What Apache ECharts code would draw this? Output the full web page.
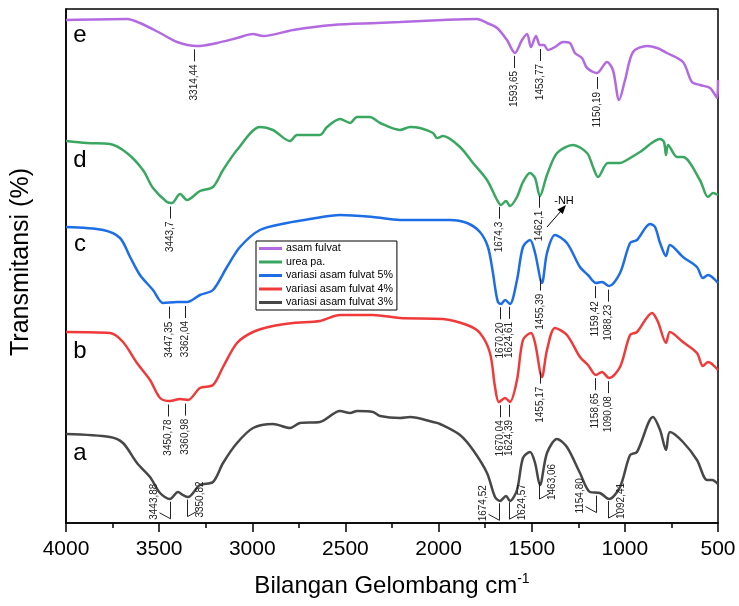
<!DOCTYPE html>
<html>
<head>
<meta charset="utf-8">
<script src="https://cdn.jsdelivr.net/npm/echarts@6/dist/echarts.min.js"></script>
<style>
  html, body { margin: 0; padding: 0; background: #fff; }
  #chart { width: 739px; height: 606px; }
</style>
</head>
<body>
<div id="chart"></div>
<script>
  // spektrum FTIR, nilai transmitansi relatif (offset per kurva)
  const wnE = [4000, 3673, 3603, 3495, 3404, 3297, 3189, 3082, 2996, 2942, 2781, 2567, 2330, 2207, 1976, 1794, 1740, 1686, 1633, 1590, 1552, 1525, 1504, 1477, 1456, 1434, 1413, 1375, 1332, 1295, 1268, 1230, 1203, 1150, 1096, 1064, 1031, 999, 956, 881, 827, 774, 688, 640, 597, 543, 505, 500]
  const tE = [503, 504, 500, 490, 481, 477, 480, 485, 489, 487, 493, 498, 500, 501, 503, 504, 500, 495, 483, 470, 483, 489, 476, 487, 478, 478, 473, 476, 481, 480, 470, 465, 455, 450, 461, 453, 423, 443, 471, 477, 475, 470, 461, 441, 438, 435, 425, 443]

  const wnD = [4000, 3887, 3764, 3673, 3587, 3533, 3458, 3431, 3388, 3350, 3281, 3211, 3157, 3082, 2959, 2889, 2798, 2760, 2637, 2599, 2529, 2475, 2438, 2368, 2314, 2207, 2153, 2100, 2030, 2008, 1976, 1885, 1815, 1740, 1686, 1665, 1638, 1617, 1579, 1547, 1509, 1482, 1456, 1418, 1364, 1278, 1203, 1171, 1144, 1091, 1026, 999, 919, 811, 790, 779, 768, 720, 688, 597, 554, 527, 500]
  const tD = [382, 380, 379, 370, 353, 335, 321, 320, 329, 323, 332, 336, 353, 373, 396, 393, 382, 388, 388, 396, 404, 400, 406, 406, 400, 393, 396, 395, 390, 385, 387, 376, 360, 343, 323, 318, 322, 317, 326, 341, 350, 345, 327, 348, 370, 378, 370, 356, 346, 360, 360, 362, 371, 384, 381, 368, 378, 366, 366, 343, 326, 330, 328]

  const wnC = [4000, 3801, 3710, 3656, 3603, 3533, 3479, 3404, 3350, 3281, 3211, 3136, 3066, 2959, 2814, 2690, 2529, 2352, 2207, 1939, 1847, 1778, 1735, 1708, 1697, 1681, 1665, 1643, 1617, 1579, 1547, 1509, 1482, 1445, 1418, 1375, 1311, 1241, 1198, 1155, 1123, 1085, 1026, 972, 935, 865, 838, 811, 779, 758, 688, 613, 581, 554, 500]
  const tC = [296, 293, 285, 266, 248, 233, 220, 221, 221, 228, 233, 256, 276, 293, 300, 304, 308, 306, 303, 303, 300, 291, 276, 250, 236, 221, 219, 223, 219, 243, 276, 283, 270, 240, 270, 288, 280, 256, 248, 240, 241, 237, 250, 280, 283, 299, 296, 280, 267, 278, 266, 256, 245, 248, 240]

  const wnB = [4000, 3764, 3694, 3619, 3549, 3495, 3442, 3388, 3345, 3281, 3211, 3157, 3082, 2996, 2889, 2781, 2637, 2529, 2352, 2207, 1976, 1847, 1778, 1724, 1697, 1676, 1643, 1617, 1579, 1547, 1504, 1482, 1445, 1418, 1375, 1311, 1241, 1198, 1155, 1123, 1085, 1026, 972, 935, 854, 822, 779, 758, 688, 613, 581, 554, 500]
  const tB = [191, 190, 181, 160, 143, 125, 122, 124, 123, 135, 138, 156, 180, 191, 197, 200, 202, 208, 208, 205, 204, 198, 190, 170, 136, 121, 125, 121, 143, 183, 190, 180, 146, 173, 195, 188, 166, 158, 148, 151, 145, 156, 188, 191, 210, 201, 180, 191, 181, 170, 157, 161, 153]

  const wnA = [4000, 3764, 3694, 3619, 3549, 3495, 3442, 3399, 3372, 3345, 3281, 3211, 3157, 3082, 2996, 2889, 2798, 2744, 2637, 2529, 2475, 2438, 2352, 2314, 2207, 2153, 2030, 1992, 1885, 1815, 1740, 1697, 1670, 1638, 1617, 1579, 1547, 1509, 1482, 1456, 1418, 1364, 1311, 1241, 1187, 1134, 1085, 1026, 972, 935, 849, 811, 779, 758, 688, 613, 559, 532, 500]
  const tA = [89, 86, 80, 60, 46, 30, 24, 31, 28, 26, 38, 41, 60, 80, 95, 99, 95, 100, 101, 112, 110, 112, 111, 107, 105, 106, 101, 99, 88, 73, 50, 26, 22, 27, 22, 33, 65, 71, 60, 38, 70, 84, 76, 50, 31, 30, 24, 36, 68, 71, 106, 93, 73, 91, 81, 63, 43, 43, 39]

  const namaSeri = ['asam fulvat', 'urea pa.', 'variasi asam fulvat 5%', 'variasi asam fulvat 4%', 'variasi asam fulvat 3%']
  const warna = ['#b36ae0', '#3aa760', '#1c6de6', '#f03a3a', '#474747']
  const hurufKurva = ['e', 'd', 'c', 'b', 'a']
  const xTicks = [4000, 3500, 3000, 2500, 2000, 1500, 1000, 500]

  // label puncak
  const puncakE = ['3314,44', '1593,65', '1453,77', '1150,19']
  const puncakD = ['3443,7', '1674,3', '1462,1']
  const puncakC = ['3447,35', '3362,04', '1670,20', '1624,61', '1455,39', '1159,42', '1088,23']
  const puncakB = ['3450,78', '3360,98', '1670,04', '1624,39', '1455,17', '1158,65', '1090,08']
  const puncakA = ['3443,88', '3350,82', '1674,52', '1624,57', '1463,06', '1154,80', '1092,41']
  const sisiA = [-1, 1, -1, 1, 1, -1, 1]

  const FONT = '"Liberation Sans", Arial, sans-serif'
  const chart = echarts.init(document.getElementById('chart'))

  function pairs(xs, ys) {
    return xs.map((x, i) => [x, ys[i]])
  }
  // posisi kurva di bilangan gelombang tertentu (untuk menaruh label)
  function interp(xs, ys, w) {
    for (let i = 0; i < xs.length - 1; i++) {
      if (w <= xs[i] && w >= xs[i + 1]) {
        const t = (xs[i] - w) / (xs[i] - xs[i + 1])
        return ys[i] + t * (ys[i + 1] - ys[i])
      }
    }
    return ys[ys.length - 1]
  }

  const anotasi = []
  function tambahAnotasi(xs, ys, labels, sisi) {
    labels.forEach((s, i) => {
      const w = parseFloat(s.replace(',', '.'))
      anotasi.push([w, interp(xs, ys, w), s, sisi ? sisi[i] : 0])
    })
  }
  tambahAnotasi(wnE, tE, puncakE)
  tambahAnotasi(wnD, tD, puncakD)
  tambahAnotasi(wnC, tC, puncakC)
  tambahAnotasi(wnB, tB, puncakB)
  tambahAnotasi(wnA, tA, puncakA, sisiA)

  function renderAnotasi(params, api) {
    const a = anotasi[params.dataIndex]
    const p = api.coord([a[0], a[1]])
    const x = Math.round(p[0]) + 0.5
    const garis = { stroke: '#222', lineWidth: 1 }
    const teks = { fill: '#222', font: '10px ' + FONT }
    if (a[3] === 0) {
      const y0 = p[1] + 4
      return {
        type: 'group',
        children: [
          { type: 'line', shape: { x1: x, y1: y0, x2: x, y2: y0 + 12 }, style: garis },
          { type: 'text', x: x, y: y0 + 15, rotation: Math.PI / 2,
            style: Object.assign({ text: a[2], x: 0, y: 0, align: 'right', verticalAlign: 'middle' }, teks) }
        ]
      }
    }
    const s = a[3]
    const y0 = p[1] + 3
    const yb = p[1] + 20
    return {
      type: 'group',
      children: [
        { type: 'line', shape: { x1: x, y1: y0, x2: x, y2: yb }, style: garis },
        { type: 'line', shape: { x1: x, y1: yb, x2: x + s * 11, y2: yb - 6 }, style: garis },
        { type: 'text', x: x + (s < 0 ? -16 : 13), y: yb + 1, rotation: Math.PI / 2,
          style: Object.assign({ text: a[2], x: 0, y: 0, align: 'left', verticalAlign: 'middle' }, teks) }
      ]
    }
  }

  const dataSeri = [pairs(wnE, tE), pairs(wnD, tD), pairs(wnC, tC), pairs(wnB, tB), pairs(wnA, tA)]
  const seriesArr = dataSeri.map((d, i) => {
    return {
      name: namaSeri[i],
      type: 'line',
      data: d,
      showSymbol: false,
      smooth: 0.3,
      lineStyle: { color: warna[i], width: 2.5 },
      itemStyle: { color: warna[i] },
      silent: true,
      z: 2
    }
  })
  seriesArr.push({
    type: 'custom',
    name: 'anotasi',
    data: anotasi.map(a => [a[0], a[1]]),
    renderItem: renderAnotasi,
    clip: false,
    silent: true,
    z: 3
  })

  // huruf penanda kurva
  const posHuruf = [35, 160, 244, 351, 453]
  const grafik = hurufKurva.map((h, i) => {
    return {
      type: 'text', x: 80, y: posHuruf[i],
      style: { text: h, x: 0, y: 0, align: 'center', verticalAlign: 'middle', font: '24px ' + FONT, fill: '#000' }
    }
  })
  grafik.push({
    type: 'text', x: 21, y: 262, rotation: Math.PI / 2,
    style: { text: 'Transmitansi (%)', x: 0, y: 0, align: 'center', verticalAlign: 'middle', font: '25px ' + FONT, fill: '#000' }
  })
  // panah -NH
  grafik.push({ type: 'line', shape: { x1: 547, y1: 227, x2: 561, y2: 211 }, style: { stroke: '#000', lineWidth: 1 } })
  grafik.push({ type: 'polygon', shape: { points: [[566, 205], [562.8, 214.1], [557.4, 209.5]] }, style: { fill: '#000' } })
  grafik.push({
    type: 'text', x: 564, y: 201,
    style: { text: '-NH', x: 0, y: 0, align: 'center', verticalAlign: 'middle', font: '11px ' + FONT, fill: '#000' }
  })

  const option = {
    animation: false,
    backgroundColor: '#fff',
    textStyle: { fontFamily: FONT },
    grid: {
      left: 66, right: 21, top: 9, bottom: 83,
      show: true, borderColor: '#000', borderWidth: 1.5
    },
    legend: {
      data: namaSeri,
      orient: 'vertical',
      left: 256,
      top: 241,
      icon: 'rect',
      itemWidth: 23,
      itemHeight: 3,
      itemGap: 2.5,
      padding: [2, 4, 2, 3],
      borderColor: '#000',
      borderWidth: 1,
      backgroundColor: '#fff',
      selectedMode: false,
      textStyle: { fontSize: 10.7, color: '#000', fontFamily: FONT, padding: [0, 0, 0, -1] }
    },
    xAxis: {
      type: 'value',
      inverse: true,
      min: 500,
      max: 4000,
      interval: 500,
      name: '{a|Bilangan Gelombang cm}{s|-1}',
      nameLocation: 'middle',
      nameGap: 49,
      nameTextStyle: {
        rich: {
          a: { fontSize: 24, color: '#000', fontFamily: FONT },
          s: { fontSize: 14, color: '#000', fontFamily: FONT, padding: [0, 0, 14, 0] }
        }
      },
      axisLine: { lineStyle: { color: '#000', width: 1.5 } },
      axisTick: { inside: false, length: 9, lineStyle: { color: '#000', width: 1.5 } },
      minorTick: { show: true, splitNumber: 2, length: 5, lineStyle: { color: '#000', width: 1.5 } },
      splitLine: { show: false },
      axisLabel: {
        fontSize: 21, color: '#000', margin: 16, fontFamily: FONT,
        formatter: v => xTicks.includes(v) ? String(v) : ''
      }
    },
    yAxis: {
      type: 'value',
      min: 0,
      max: 514,
      axisLine: { show: true, lineStyle: { color: '#000', width: 1.5 } },
      axisTick: { show: false },
      axisLabel: { show: false },
      splitLine: { show: false }
    },
    graphic: grafik,
    series: seriesArr
  }
  chart.setOption(option)
</script>
</body>
</html>
